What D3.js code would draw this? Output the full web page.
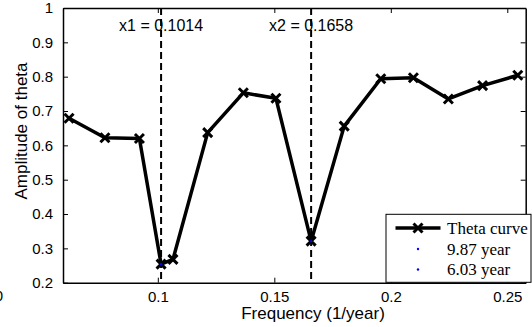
<!DOCTYPE html>
<html>
<head>
<meta charset="utf-8">
<script src="https://cdn.jsdelivr.net/npm/d3@7"></script>
<style>
  body { margin: 0; background: #fff; }
  svg { display: block; }
  .tick text { font-family: "Liberation Sans", Arial, sans-serif; font-size: 15px; fill: #000; }
</style>
</head>
<body>
<svg id="chart" width="532" height="327"></svg>
<script>
// values
const freqs = [0.0619, 0.0773, 0.0921, 0.1014, 0.1065, 0.1214, 0.1367, 0.1507,
  0.1658, 0.1800, 0.1957, 0.2097, 0.2247, 0.2394, 0.2545];
const amplitude = [0.679, 0.622, 0.620, 0.254, 0.268, 0.637, 0.753, 0.737,
  0.321, 0.656, 0.794, 0.797, 0.735, 0.774, 0.804];
const peakFreqs = [0.1014, 0.1658];
const peakAmps = [0.254, 0.321];
const peakNames = ['x1', 'x2'];
const legendLabels = ['Theta curve', '9.87 year', '6.03 year'];
const xTicks = [0.1, 0.15, 0.2, 0.25];
const yTicks = [0.2, 0.3, 0.4, 0.5, 0.6, 0.7, 0.8, 0.9, 1];

const plotLeft = 63, plotRight = 525.7, plotTop = 8, plotBottom = 282.7;

const svg = d3.select('#chart');

const x = d3.scaleLinear().domain([0.0593, 0.2579]).range([plotLeft, plotRight]);
const y = d3.scaleLinear().domain([0.2, 1]).range([plotBottom, plotTop]);

// axes, ticks pointing inward like matlab
const fmt = d => String(d);
svg.append('g')
  .attr('transform', 'translate(0,' + plotBottom + ')')
  .call(d3.axisBottom(x).tickValues(xTicks).tickFormat(fmt).tickSizeInner(-5).tickSizeOuter(0).tickPadding(8.5))
  .call(g => g.selectAll('.tick text').attr('dy', '0.71em'));
svg.append('g')
  .attr('transform', 'translate(0,' + plotTop + ')')
  .call(d3.axisTop(x).tickValues(xTicks).tickFormat('').tickSizeInner(-5).tickSizeOuter(0));
svg.append('g')
  .attr('transform', 'translate(' + plotLeft + ',0)')
  .call(d3.axisLeft(y).tickValues(yTicks).tickFormat(fmt).tickSizeInner(-5).tickSizeOuter(0).tickPadding(10));
svg.append('g')
  .attr('transform', 'translate(' + plotRight + ',0)')
  .call(d3.axisRight(y).tickValues(yTicks).tickFormat('').tickSizeInner(-5).tickSizeOuter(0));

svg.selectAll('.domain').attr('stroke', '#000').attr('stroke-width', 1.5);
svg.selectAll('.tick line').attr('stroke', '#000').attr('stroke-width', 1);

// clipped label fragment at far left
svg.append('text')
  .attr('x', 3).attr('y', 300.5)
  .attr('text-anchor', 'end')
  .style('font-family', '"Liberation Sans", Arial, sans-serif')
  .style('font-size', '15px')
  .text('0');

// axis labels
svg.append('text')
  .attr('x', 313).attr('y', 318.5)
  .attr('text-anchor', 'middle')
  .style('font-family', '"Liberation Sans", Arial, sans-serif')
  .style('font-size', '17px')
  .text('Frequency (1/year)');
svg.append('text')
  .attr('transform', 'translate(27,131) rotate(-90)')
  .attr('text-anchor', 'middle')
  .style('font-family', '"Liberation Sans", Arial, sans-serif')
  .style('font-size', '17px')
  .text('Amplitude of theta');

// annotation text first, dashed lines drawn over it
svg.selectAll('.peaklabel')
  .data(peakFreqs)
  .enter()
  .append('text')
  .attr('x', d => x(d))
  .attr('y', 31)
  .attr('text-anchor', 'middle')
  .style('font-family', '"Liberation Sans", Arial, sans-serif')
  .style('font-size', '16px')
  .text((d, i) => peakNames[i] + ' = ' + d.toFixed(4));

svg.selectAll('.vline')
  .data(peakFreqs)
  .enter()
  .append('line')
  .attr('x1', d => x(d)).attr('x2', d => x(d))
  .attr('y1', y(1)).attr('y2', y(0.2))
  .attr('stroke', '#000')
  .attr('stroke-width', 2)
  .attr('stroke-dasharray', '7,4');

// theta curve
const line = d3.line().x((d, i) => x(freqs[i])).y(d => y(d));
svg.append('path')
  .datum(amplitude)
  .attr('fill', 'none')
  .attr('stroke', '#000')
  .attr('stroke-width', 3.5)
  .attr('stroke-linejoin', 'round')
  .attr('d', line);

const cross = 4.5;
function drawCross(g, cx, cy) {
  g.append('path')
    .attr('d', 'M' + (cx - cross) + ',' + (cy - cross) + 'L' + (cx + cross) + ',' + (cy + cross) +
      'M' + (cx - cross) + ',' + (cy + cross) + 'L' + (cx + cross) + ',' + (cy - cross))
    .attr('stroke', '#000')
    .attr('stroke-width', 3);
}
const marks = svg.append('g');
amplitude.forEach((d, i) => drawCross(marks, x(freqs[i]), y(d)));

// peak dots
svg.selectAll('.peak')
  .data(peakFreqs)
  .enter()
  .append('circle')
  .attr('cx', d => x(d))
  .attr('cy', (d, i) => y(peakAmps[i]))
  .attr('r', 1.2)
  .attr('fill', '#0000ff');

// legend
const lg = svg.append('g');
lg.append('rect')
  .attr('x', 386).attr('y', 214.3)
  .attr('width', 145).attr('height', 68)
  .attr('fill', '#fff')
  .attr('stroke', '#000')
  .attr('stroke-width', 1);
const rowY = [228, 249, 269.5];
lg.append('line')
  .attr('x1', 395.5).attr('x2', 440.5)
  .attr('y1', rowY[0]).attr('y2', rowY[0])
  .attr('stroke', '#000').attr('stroke-width', 3.5);
drawCross(lg, 418, rowY[0]);
[1, 2].forEach(i => {
  lg.append('circle')
    .attr('cx', 418).attr('cy', rowY[i])
    .attr('r', 1.2).attr('fill', '#0000ff');
});
lg.selectAll('.lgtext')
  .data(legendLabels)
  .enter()
  .append('text')
  .attr('x', 447)
  .attr('y', (d, i) => rowY[i])
  .attr('dy', '0.35em')
  .style('font-family', '"Liberation Serif", "Times New Roman", serif')
  .style('font-size', '17px')
  .text(d => d);
</script>
</body>
</html>
